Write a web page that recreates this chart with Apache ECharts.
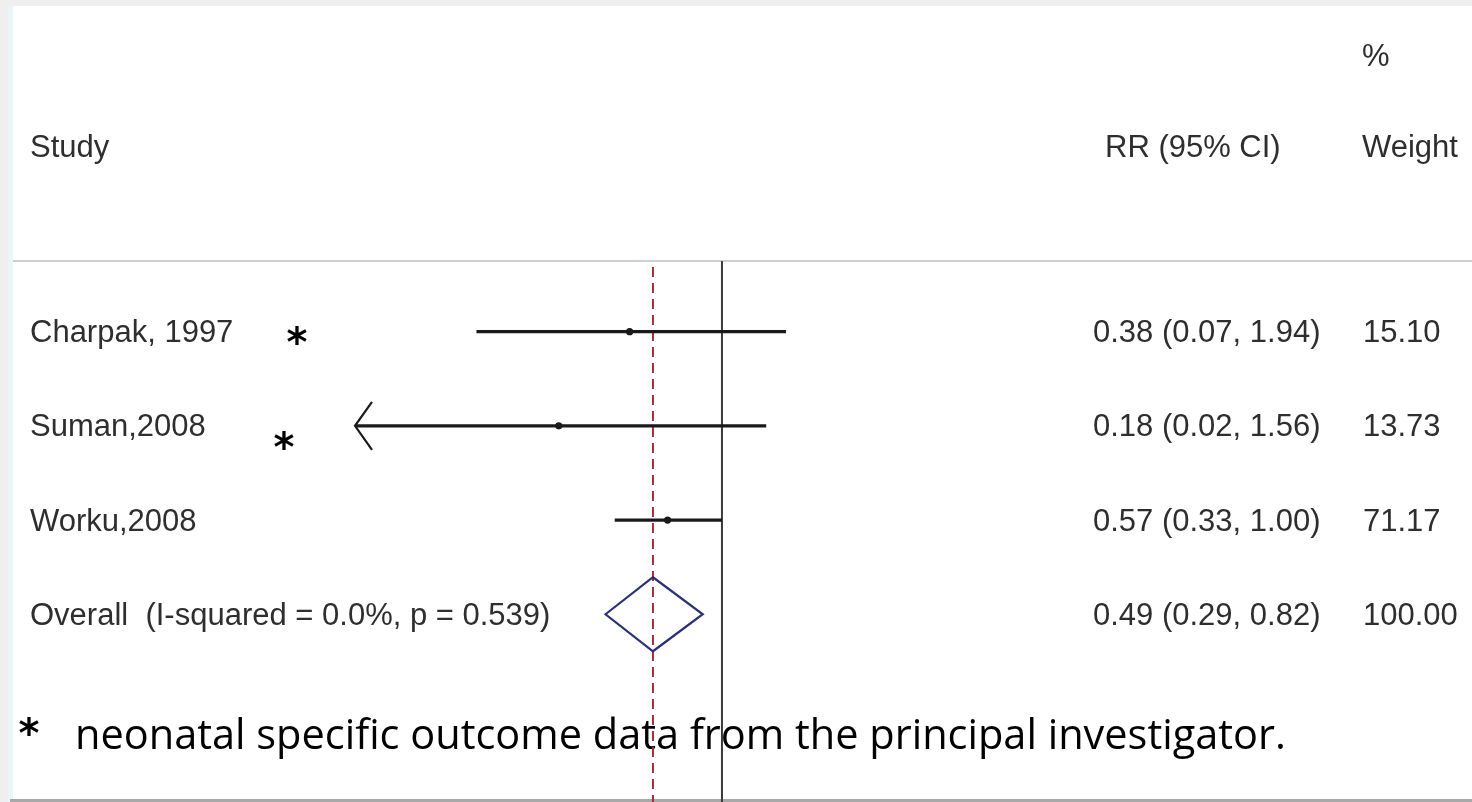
<!DOCTYPE html>
<html>
<head>
<meta charset="utf-8">
<script src="https://cdn.jsdelivr.net/npm/echarts@6/dist/echarts.min.js"></script>
<style>
  html, body { margin: 0; padding: 0; background: #ffffff; }
  #chart { width: 1472px; height: 802px; }
</style>
</head>
<body>
<div id="chart"></div>
<script>
// ---- data ----
const studies = ['Charpak, 1997', 'Suman,2008', 'Worku,2008', 'Overall  (I-squared = 0.0%, p = 0.539)'];
const rrLabels = ['0.38 (0.07, 1.94)', '0.18 (0.02, 1.56)', '0.57 (0.33, 1.00)', '0.49 (0.29, 0.82)'];
const weightLabels = ['15.10', '13.73', '71.17', '100.00'];
const estimates = [0.385, 0.185, 0.57, 0.49];
const lowerCI = [0.079, 0.02, 0.33, 0.30];
const upperCI = [1.94, 1.58, 1.00, 0.82];
const rowIndex = [1, 2, 3, 4];
const isOverall = [false, false, false, true];
const starred = [true, true, false, false];
const nullValue = 1;
const overallValue = 0.49;
const headers = { pct: '%', study: 'Study', rr: 'RR (95% CI)', weight: 'Weight' };
const footnote = 'neonatal specific outcome data from the principal investigator.';

const X_MIN = 0.0225, X_MAX = 2;
const Y_MIN = 0.25, Y_MAX = 5.993;

const chart = echarts.init(document.getElementById('chart'), null, { renderer: 'canvas' });

const tableFont = '31px "Liberation Sans", Arial, sans-serif';
const textColor = '#2e2e2e';
const starFont = 'bold 40px "DejaVu Sans", sans-serif';

const rowData = rowIndex.map((r, i) => [estimates[i], lowerCI[i], upperCI[i], r, i]);

function renderRow(params, api) {
  const i = api.value(4);
  const est = api.value(0), lo = api.value(1), hi = api.value(2), row = api.value(3);
  const children = [];
  const y = api.coord([X_MIN, row])[1] + 2;
  children.push({ type: 'text', style: { x: 30, y: y, text: studies[i], font: tableFont, fill: textColor, verticalAlign: 'middle', align: 'left' } });
  children.push({ type: 'text', style: { x: 1093, y: y, text: rrLabels[i], font: tableFont, fill: textColor, verticalAlign: 'middle', align: 'left' } });
  children.push({ type: 'text', style: { x: 1363, y: y, text: weightLabels[i], font: tableFont, fill: textColor, verticalAlign: 'middle', align: 'left' } });
  if (isOverall[i]) {
    const pl = api.coord([lo, row]);
    const pr = api.coord([hi, row]);
    const pc = api.coord([est, row]);
    const h = 37;
    children.push({ type: 'polygon', shape: { points: [[pl[0], pl[1]], [pc[0], pc[1] - h], [pr[0], pr[1]], [pc[0], pc[1] + h]] },
      style: { fill: 'none', stroke: '#2b2f80', lineWidth: 2.2 } });
  } else {
    const clipped = lo < X_MIN;
    const p1 = api.coord([clipped ? X_MIN : lo, row]);
    const p2 = api.coord([hi, row]);
    const pe = api.coord([est, row]);
    children.push({ type: 'line', shape: { x1: p1[0], y1: p1[1], x2: p2[0], y2: p2[1] }, style: { stroke: '#1a1a1a', lineWidth: 3.2 } });
    children.push({ type: 'circle', shape: { cx: pe[0], cy: pe[1], r: 3.6 }, style: { fill: '#1a1a1a' } });
    if (clipped) {
      children.push({ type: 'polyline', shape: { points: [[p1[0] + 17, p1[1] - 24], [p1[0], p1[1]], [p1[0] + 17, p1[1] + 24]] },
        style: { stroke: '#1a1a1a', lineWidth: 2.2, fill: 'none' } });
    }
    if (starred[i]) {
      children.push({ type: 'text', style: { x: i === 0 ? 297 : 284, y: y + (i === 0 ? 12 : 23), text: '*', font: starFont, fill: '#000', align: 'center', verticalAlign: 'middle' } });
    }
  }
  return { type: 'group', children: children };
}

function renderRefLines(params, api) {
  const top1 = api.coord([nullValue, Y_MIN]);
  const bot1 = api.coord([nullValue, Y_MAX]);
  const top2 = api.coord([overallValue, Y_MIN]);
  const bot2 = api.coord([overallValue, Y_MAX]);
  return { type: 'group', children: [
    { type: 'line', shape: { x1: top1[0], y1: top1[1], x2: bot1[0], y2: bot1[1] }, style: { stroke: '#3a3a3a', lineWidth: 2 } },
    { type: 'line', shape: { x1: top2[0], y1: top2[1] + 6, x2: bot2[0], y2: bot2[1] }, style: { stroke: '#a5303c', lineWidth: 2, lineDash: [10, 6] } }
  ] };
}

const option = {
  backgroundColor: '#ffffff',
  animation: false,
  grid: { left: 355, top: 261, width: 434, height: 541, containLabel: false },
  xAxis: { type: 'log', logBase: 10, min: X_MIN, max: X_MAX, show: false },
  yAxis: { type: 'value', inverse: true, min: Y_MIN, max: Y_MAX, show: false },
  graphic: [
    { type: 'rect', shape: { x: 0, y: 0, width: 1472, height: 6 }, style: { fill: '#efefef' }, silent: true },
    { type: 'rect', shape: { x: 0, y: 0, width: 8, height: 802 }, style: { fill: '#efefef' }, silent: true },
    { type: 'rect', shape: { x: 8, y: 6, width: 5, height: 796 }, style: { fill: '#e9f5f8' }, silent: true },
    { type: 'rect', shape: { x: 10, y: 799, width: 1462, height: 3 }, style: { fill: '#a9a9a9' }, silent: true },
    { type: 'rect', shape: { x: 13, y: 260, width: 1459, height: 2 }, style: { fill: '#cfcfcf' }, silent: true },
    { type: 'text', style: { x: 1362, y: 57, text: headers.pct, font: tableFont, fill: textColor, verticalAlign: 'middle' } },
    { type: 'text', style: { x: 30, y: 148, text: headers.study, font: tableFont, fill: textColor, verticalAlign: 'middle' } },
    { type: 'text', style: { x: 1105, y: 148, text: headers.rr, font: tableFont, fill: textColor, verticalAlign: 'middle' } },
    { type: 'text', style: { x: 1362, y: 148, text: headers.weight, font: tableFont, fill: textColor, verticalAlign: 'middle' } },
    { type: 'text', style: { x: 29, y: 737, text: '*', font: starFont, fill: '#000', align: 'center', verticalAlign: 'middle' } },
    { type: 'text', style: { x: 75, y: 737, text: footnote, font: '41.5px "Open Sans", sans-serif', fill: '#000', verticalAlign: 'middle' } }
  ],
  series: [
    { type: 'custom', renderItem: renderRefLines, data: [[nullValue, Y_MIN]], silent: true, z: 1 },
    { type: 'custom', renderItem: renderRow, data: rowData, silent: true, z: 2, clip: false }
  ]
};
chart.setOption(option);
</script>
</body>
</html>
